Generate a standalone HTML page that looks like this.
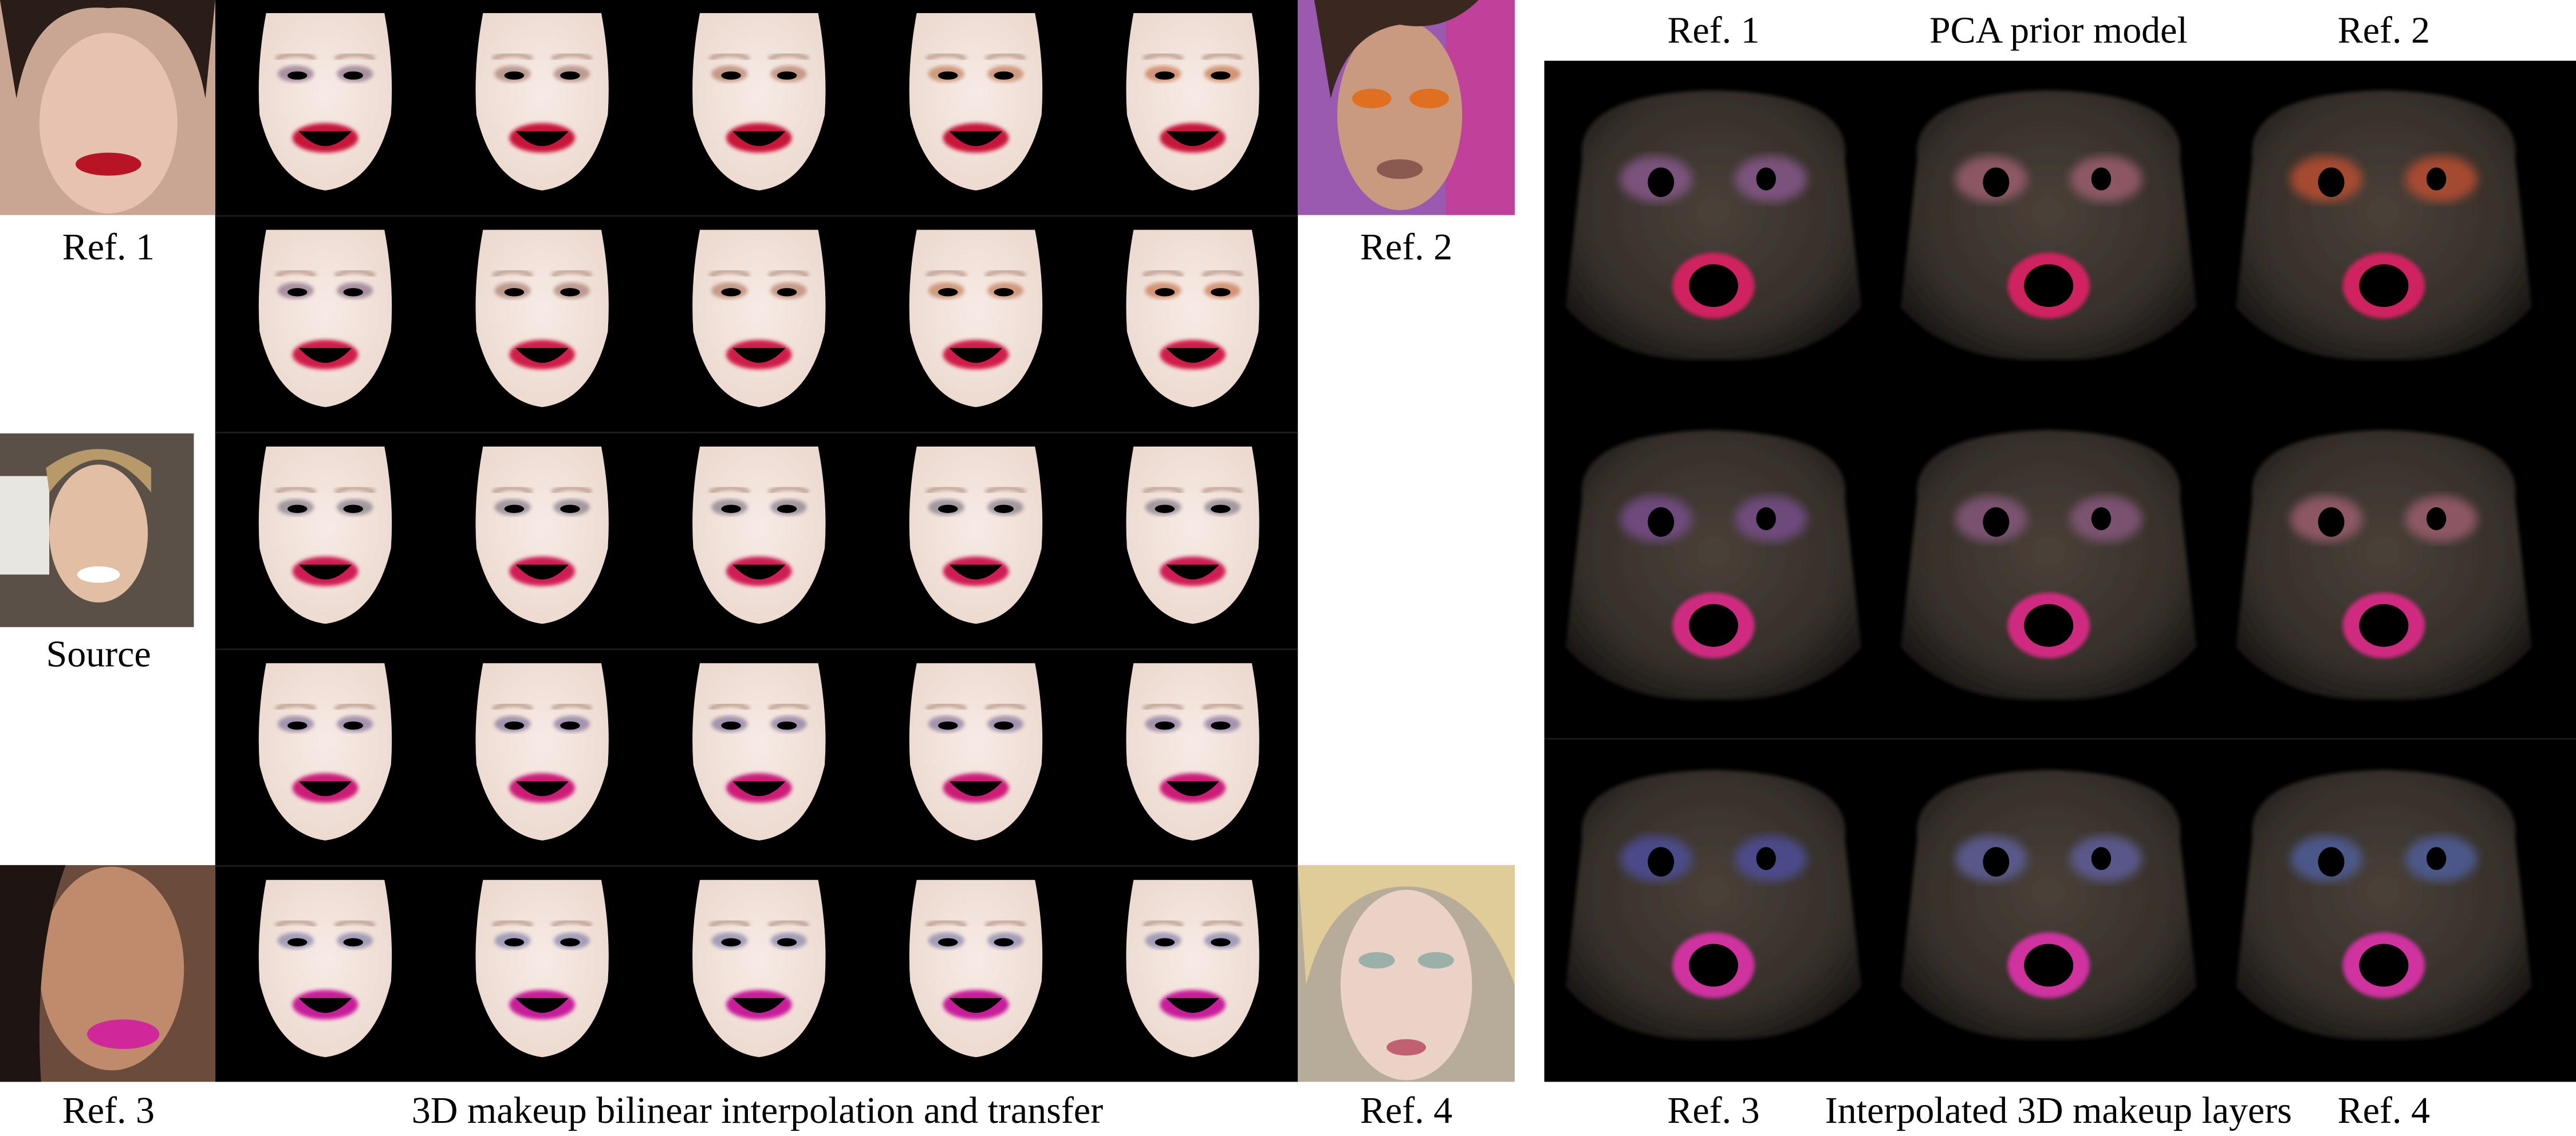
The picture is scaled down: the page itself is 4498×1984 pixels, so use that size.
<!DOCTYPE html>
<html><head><meta charset="utf-8">
<style>
html,body{margin:0;padding:0;background:#fff;}
svg{display:block;}
text{font-family:"Liberation Serif",serif;font-size:23px;fill:#000;}
</style></head>
<body>
<svg id="fig" width="4498" height="1984" viewBox="0 0 1568 692" preserveAspectRatio="none" xmlns="http://www.w3.org/2000/svg">
<defs>
<filter id="blur1"><feGaussianBlur stdDeviation="1.2"/></filter>
<filter id="blur3"><feGaussianBlur stdDeviation="3"/></filter>
<radialGradient id="skin" cx="50%" cy="45%" r="60%"><stop offset="0" stop-color="#f7ebe6"/><stop offset="1" stop-color="#ecd9cf"/></radialGradient>
<radialGradient id="dark" cx="50%" cy="45%" r="60%"><stop offset="0" stop-color="#4a4139"/><stop offset="0.75" stop-color="#342e28"/><stop offset="1" stop-color="#1a1715"/></radialGradient>
</defs>
<rect width="1568" height="692" fill="#fff"/>
<rect x="131" y="0" width="659" height="659" fill="#000"/>
<rect x="940" y="37" width="628" height="622" fill="#000"/>
<line x1="940" y1="450" x2="1568" y2="450" stroke="#1a1a1a" stroke-width="1"/>
<g id="grid"></g>
<g id="darkgrid"></g>

<g>
<rect x="0" y="0" width="131" height="131" fill="#c9a594"/>
<ellipse cx="66" cy="75" rx="42" ry="55" fill="#e8c2b1"/>
<path d="M10 60 Q20 0 66 5 Q115 0 125 60 L131 0 L0 0 Z" fill="#2a1d18"/>
<ellipse cx="66" cy="100" rx="20" ry="7" fill="#b81425"/>
</g>
<g>
<rect x="0" y="264" width="118" height="118" fill="#5a5048"/>
<rect x="0" y="290" width="30" height="60" fill="#e8e6e0"/>
<ellipse cx="60" cy="325" rx="30" ry="42" fill="#e2bfa4"/>
<path d="M30 300 Q60 260 92 300 L92 285 Q60 262 28 285Z" fill="#b89a6a"/>
<ellipse cx="60" cy="350" rx="13" ry="5" fill="#fff"/>
</g>
<g>
<rect x="0" y="527" width="131" height="132" fill="#6b4b3c"/>
<ellipse cx="68" cy="590" rx="44" ry="62" fill="#c08a6c"/>
<path d="M0 527 L40 527 Q20 580 25 659 L0 659Z" fill="#1e1512"/>
<ellipse cx="75" cy="630" rx="22" ry="9" fill="#d0289a"/>
</g>
<g>
<rect x="790" y="0" width="132" height="131" fill="#9a5ab0"/>
<rect x="880" y="0" width="42" height="131" fill="#c0409a"/>
<ellipse cx="852" cy="70" rx="38" ry="58" fill="#c99a80"/>
<path d="M800 0 L900 0 Q880 20 852 15 Q820 20 810 60Z" fill="#3a2820"/>
<ellipse cx="835" cy="60" rx="12" ry="6" fill="#e07020"/>
<ellipse cx="870" cy="60" rx="12" ry="6" fill="#e07020"/>
<ellipse cx="852" cy="103" rx="14" ry="6" fill="#8a5a50"/>
</g>
<g>
<rect x="790" y="527" width="132" height="132" fill="#b7ab9a"/>
<path d="M790 527 L922 527 L922 600 Q900 540 856 540 Q810 540 795 600Z" fill="#e0cc98"/>
<ellipse cx="856" cy="600" rx="40" ry="58" fill="#ead2c6"/>
<ellipse cx="838" cy="585" rx="11" ry="5" fill="#9ab0a8"/>
<ellipse cx="874" cy="585" rx="11" ry="5" fill="#9ab0a8"/>
<ellipse cx="856" cy="638" rx="12" ry="5" fill="#c06070"/>
</g>

<text x="66" y="158" text-anchor="middle">Ref. 1</text>
<text x="60" y="406" text-anchor="middle">Source</text>
<text x="66" y="684" text-anchor="middle">Ref. 3</text>
<text x="856" y="158" text-anchor="middle">Ref. 2</text>
<text x="856" y="684" text-anchor="middle">Ref. 4</text>
<text x="461" y="684" text-anchor="middle">3D makeup bilinear interpolation and transfer</text>
<text x="1043" y="26" text-anchor="middle">Ref. 1</text>
<text x="1253" y="26" text-anchor="middle">PCA prior model</text>
<text x="1451" y="26" text-anchor="middle">Ref. 2</text>
<text x="1043" y="684" text-anchor="middle">Ref. 3</text>
<text x="1253" y="684" text-anchor="middle">Interpolated 3D makeup layers</text>
<text x="1451" y="684" text-anchor="middle">Ref. 4</text>
</svg>
<script>
const NS="http://www.w3.org/2000/svg";
const rowLip=["#c8183a","#d01c4a","#d01c55","#cc1f78","#c81c9a"];
const colEye=["#7a5a7a","#9a6a60","#a86a50","#b86a40","#c06030"];
const rowEyeMix=["#8a6070","#8a6070","#706878","#706090","#7070a0"];
function mk(tag,attrs,parent){const e=document.createElementNS(NS,tag);for(const k in attrs)e.setAttribute(k,attrs[k]);parent.appendChild(e);return e;}
const grid=document.getElementById('grid');
for(let r=0;r<5;r++){for(let c=0;c<5;c++){
 const cx=198+c*132, cy=r*132;
 const g=mk('g',{},grid);
 
 
 mk('path',{d:`M${cx-36} ${cy+8} L${cx+36} ${cy+8} Q${cx+42} ${cy+40} ${cx+40} ${cy+70} Q${cx+30} ${cy+112} ${cx} ${cy+116} Q${cx-30} ${cy+112} ${cx-40} ${cy+70} Q${cx-42} ${cy+40} ${cx-36} ${cy+8}Z`,fill:'url(#skin)'},g);
 mk('path',{d:`M${cx-30} ${cy+36} Q${cx-18} ${cy+30} ${cx-6} ${cy+36}`,stroke:'#a07a68','stroke-width':3,fill:'none',opacity:0.6,filter:'url(#blur1)'},g);
 mk('path',{d:`M${cx+6} ${cy+36} Q${cx+18} ${cy+30} ${cx+30} ${cy+36}`,stroke:'#a07a68','stroke-width':3,fill:'none',opacity:0.6,filter:'url(#blur1)'},g);
 const eye = r<2?colEye[c]:rowEyeMix[r];
 mk('ellipse',{cx:cx-18,cy:cy+45,rx:11,ry:5,fill:eye,opacity:0.6,filter:'url(#blur1)'},g);
 mk('ellipse',{cx:cx+18,cy:cy+45,rx:11,ry:5,fill:eye,opacity:0.6,filter:'url(#blur1)'},g);
 mk('ellipse',{cx:cx-17,cy:cy+46,rx:6,ry:2.5,fill:'#000'},g);
 mk('ellipse',{cx:cx+17,cy:cy+46,rx:6,ry:2.5,fill:'#000'},g);
 mk('ellipse',{cx:cx,cy:cy+84,rx:20,ry:9,fill:rowLip[r],filter:'url(#blur1)'},g);
 mk('path',{d:`M${cx-16} ${cy+80} L${cx+16} ${cy+80} Q${cx+8} ${cy+89} ${cx} ${cy+89} Q${cx-8} ${cy+89} ${cx-16} ${cy+80}Z`,fill:'#000'},g);
}
 if(r>0) mk('line',{x1:131,y1:r*132-0.5,x2:790,y2:r*132-0.5,stroke:'#1c1c1c','stroke-width':1},grid);
}
const dg=document.getElementById('darkgrid');
const dLip=["#d02060","#d02a80","#d030a0"];
const dEye=[["#8a5a90","#a06070","#c05030"],["#7a5090","#8a5a80","#a06070"],["#5050a0","#6060a0","#5060a0"]];
for(let r=0;r<3;r++)for(let c=0;c<3;c++){
 const cx=1043+c*204, cy=37+r*207;
 const g=mk('g',{},dg);
 
 
 mk('path',{d:`M${cx-80} ${cy+60} Q${cx-85} ${cy+20} ${cx} ${cy+18} Q${cx+85} ${cy+20} ${cx+80} ${cy+60} L${cx+90} ${cy+150} Q${cx+60} ${cy+185} ${cx} ${cy+182} Q${cx-60} ${cy+185} ${cx-90} ${cy+150}Z`,fill:'url(#dark)',filter:'url(#blur1)'},g);
 mk('ellipse',{cx:cx-35,cy:cy+72,rx:22,ry:14,fill:dEye[r][c],opacity:0.8,filter:'url(#blur3)'},g);
 mk('ellipse',{cx:cx+35,cy:cy+72,rx:22,ry:14,fill:dEye[r][c],opacity:0.8,filter:'url(#blur3)'},g);
 mk('ellipse',{cx:cx-32,cy:cy+74,rx:8,ry:9,fill:'#000'},g);
 mk('ellipse',{cx:cx+32,cy:cy+72,rx:6,ry:7,fill:'#000'},g);
 mk('ellipse',{cx:cx,cy:cy+137,rx:25,ry:20,fill:dLip[r],filter:'url(#blur1)'},g);
 mk('ellipse',{cx:cx,cy:cy+137,rx:15,ry:13,fill:'#000'},g);
}
</script>
</body></html>
